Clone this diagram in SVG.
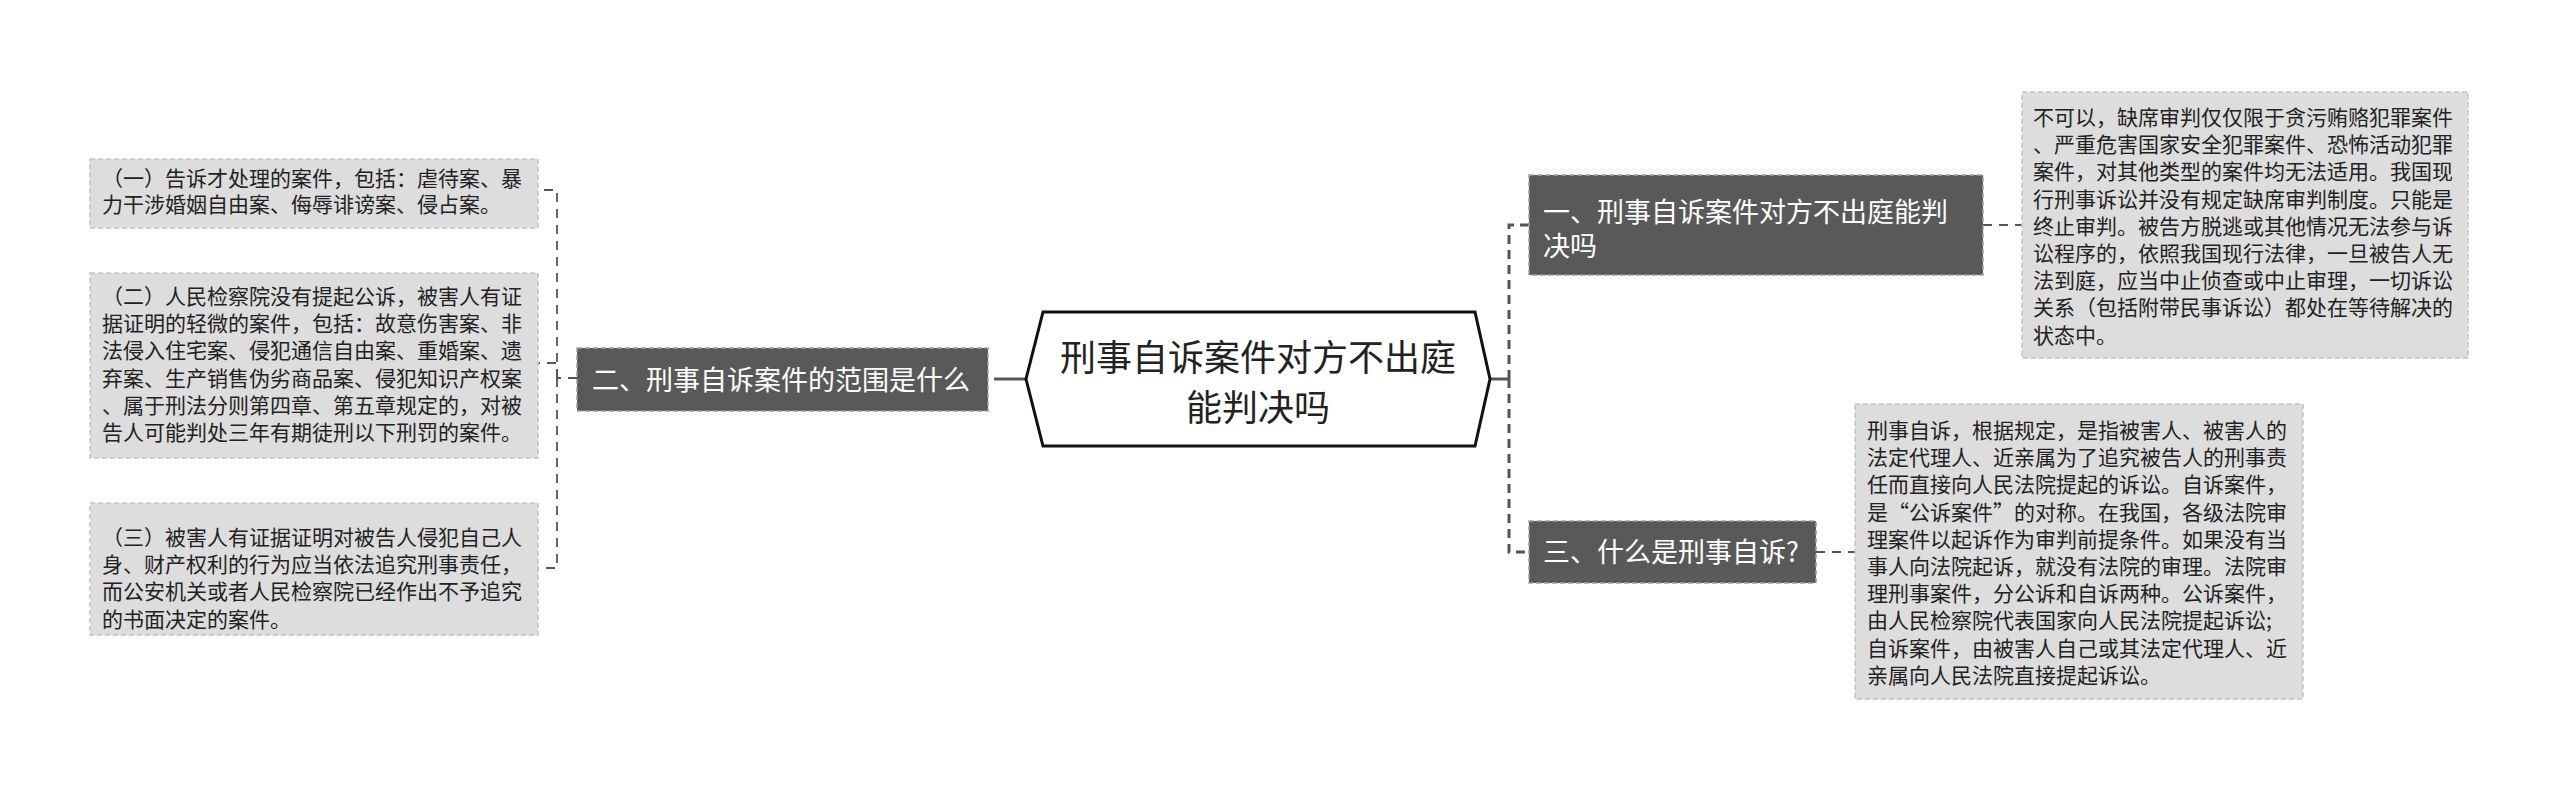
<svg xmlns="http://www.w3.org/2000/svg" width="2560" height="791" viewBox="0 0 2560 791">
<style>
.bg{fill:#ffffff}
.leaf{fill:#dddddd;stroke:#c4c4c4;stroke-width:1.5;stroke-dasharray:5 3}
.branch{fill:#595959;stroke:#a0a0a0;stroke-width:1.5;stroke-dasharray:5 3}
.center{fill:#ffffff;stroke:#111111;stroke-width:3}
.lt{font-family:"Noto Sans CJK SC","Noto Sans",sans-serif;font-size:21px;fill:#222222}
.bt{font-family:"Noto Sans CJK SC","Noto Sans",sans-serif;font-size:27px;fill:#ffffff}
.ct{font-family:"Noto Sans CJK SC","Noto Sans",sans-serif;font-size:36px;fill:#222222;text-anchor:middle}
.c1{fill:none;stroke:#555555;stroke-width:3}
.c1d{fill:none;stroke:#555555;stroke-width:3;stroke-dasharray:9 6}
.c2d{fill:none;stroke:#555555;stroke-width:1.8;stroke-dasharray:9 7}
</style>
<rect class="bg" x="0" y="0" width="2560" height="791"/>
<g id="connectors">
<path class="c1" d="M1026,379 H1003"/>
<path class="c1d" d="M1003,379 H988"/>
<path class="c1" d="M1490,379 H1509"/>
<path class="c1d" d="M1509,379 V225 H1529"/>
<path class="c1d" d="M1509,379 V552 H1529"/>
<path class="c2d" d="M577,378 H557"/>
<path class="c2d" d="M557,378 V190 H538"/>
<path class="c2d" d="M557,378 V363 H538"/>
<path class="c2d" d="M557,378 V568 H538"/>
<path class="c2d" d="M1983,225 H2022"/>
<path class="c2d" d="M1816,552 H1855"/>
</g>
<g id="center">
<polygon class="center" points="1026,379 1043,312 1475,312 1490,379 1475,446 1043,446"/>
<text class="ct" x="1258" y="371">刑事自诉案件对方不出庭</text>
<text class="ct" x="1258" y="421">能判决吗</text>
</g>
<g id="branch2">
<rect class="branch" x="577" y="348" width="411" height="63"/>
<text class="bt" x="592" y="390">二、刑事自诉案件的范围是什么</text>
</g>
<g id="branch1">
<rect class="branch" x="1529" y="175" width="454" height="100"/>
<text class="bt" x="1543" y="222">一、刑事自诉案件对方不出庭能判</text>
<text class="bt" x="1543" y="256">决吗</text>
</g>
<g id="branch3">
<rect class="branch" x="1529" y="521" width="287" height="62"/>
<text class="bt" x="1543" y="562">三、什么是刑事自诉?</text>
</g>
<g id="leaf1">
<rect class="leaf" x="90" y="159" width="448" height="69"/>
<text class="lt"><tspan x="102" y="186">（一）告诉才处理的案件，包括：虐待案、暴</tspan><tspan x="102" y="212">力干涉婚姻自由案、侮辱诽谤案、侵占案。</tspan></text>
</g>
<g id="leaf2">
<rect class="leaf" x="90" y="273" width="448" height="185"/>
<text class="lt"><tspan x="102" y="304">（二）人民检察院没有提起公诉，被害人有证</tspan><tspan x="102" y="331.2">据证明的轻微的案件，包括：故意伤害案、非</tspan><tspan x="102" y="358.4">法侵入住宅案、侵犯通信自由案、重婚案、遗</tspan><tspan x="102" y="385.6">弃案、生产销售伪劣商品案、侵犯知识产权案</tspan><tspan x="102" y="412.8">、属于刑法分则第四章、第五章规定的，对被</tspan><tspan x="102" y="440">告人可能判处三年有期徒刑以下刑罚的案件。</tspan></text>
</g>
<g id="leaf3">
<rect class="leaf" x="90" y="503" width="448" height="132"/>
<text class="lt"><tspan x="102" y="545">（三）被害人有证据证明对被告人侵犯自己人</tspan><tspan x="102" y="572.2">身、财产权利的行为应当依法追究刑事责任，</tspan><tspan x="102" y="599.4">而公安机关或者人民检察院已经作出不予追究</tspan><tspan x="102" y="626.6">的书面决定的案件。</tspan></text>
</g>
<g id="leaf4">
<rect class="leaf" x="2022" y="92" width="446" height="266"/>
<text class="lt"><tspan x="2033" y="125">不可以，缺席审判仅仅限于贪污贿赂犯罪案件</tspan><tspan x="2033" y="152.2">、严重危害国家安全犯罪案件、恐怖活动犯罪</tspan><tspan x="2033" y="179.4">案件，对其他类型的案件均无法适用。我国现</tspan><tspan x="2033" y="206.6">行刑事诉讼并没有规定缺席审判制度。只能是</tspan><tspan x="2033" y="233.8">终止审判。被告方脱逃或其他情况无法参与诉</tspan><tspan x="2033" y="261">讼程序的，依照我国现行法律，一旦被告人无</tspan><tspan x="2033" y="288.2">法到庭，应当中止侦查或中止审理，一切诉讼</tspan><tspan x="2033" y="315.4">关系（包括附带民事诉讼）都处在等待解决的</tspan><tspan x="2033" y="342.6">状态中。</tspan></text>
</g>
<g id="leaf5">
<rect class="leaf" x="1855" y="404" width="448" height="295"/>
<text class="lt"><tspan x="1867" y="438">刑事自诉，根据规定，是指被害人、被害人的</tspan><tspan x="1867" y="465.2">法定代理人、近亲属为了追究被告人的刑事责</tspan><tspan x="1867" y="492.4">任而直接向人民法院提起的诉讼。自诉案件，</tspan><tspan x="1867" y="519.6">是“公诉案件”的对称。在我国，各级法院审</tspan><tspan x="1867" y="546.8">理案件以起诉作为审判前提条件。如果没有当</tspan><tspan x="1867" y="574">事人向法院起诉，就没有法院的审理。法院审</tspan><tspan x="1867" y="601.2">理刑事案件，分公诉和自诉两种。公诉案件，</tspan><tspan x="1867" y="628.4">由人民检察院代表国家向人民法院提起诉讼;</tspan><tspan x="1867" y="655.6">自诉案件，由被害人自己或其法定代理人、近</tspan><tspan x="1867" y="682.8">亲属向人民法院直接提起诉讼。</tspan></text>
</g>
</svg>
